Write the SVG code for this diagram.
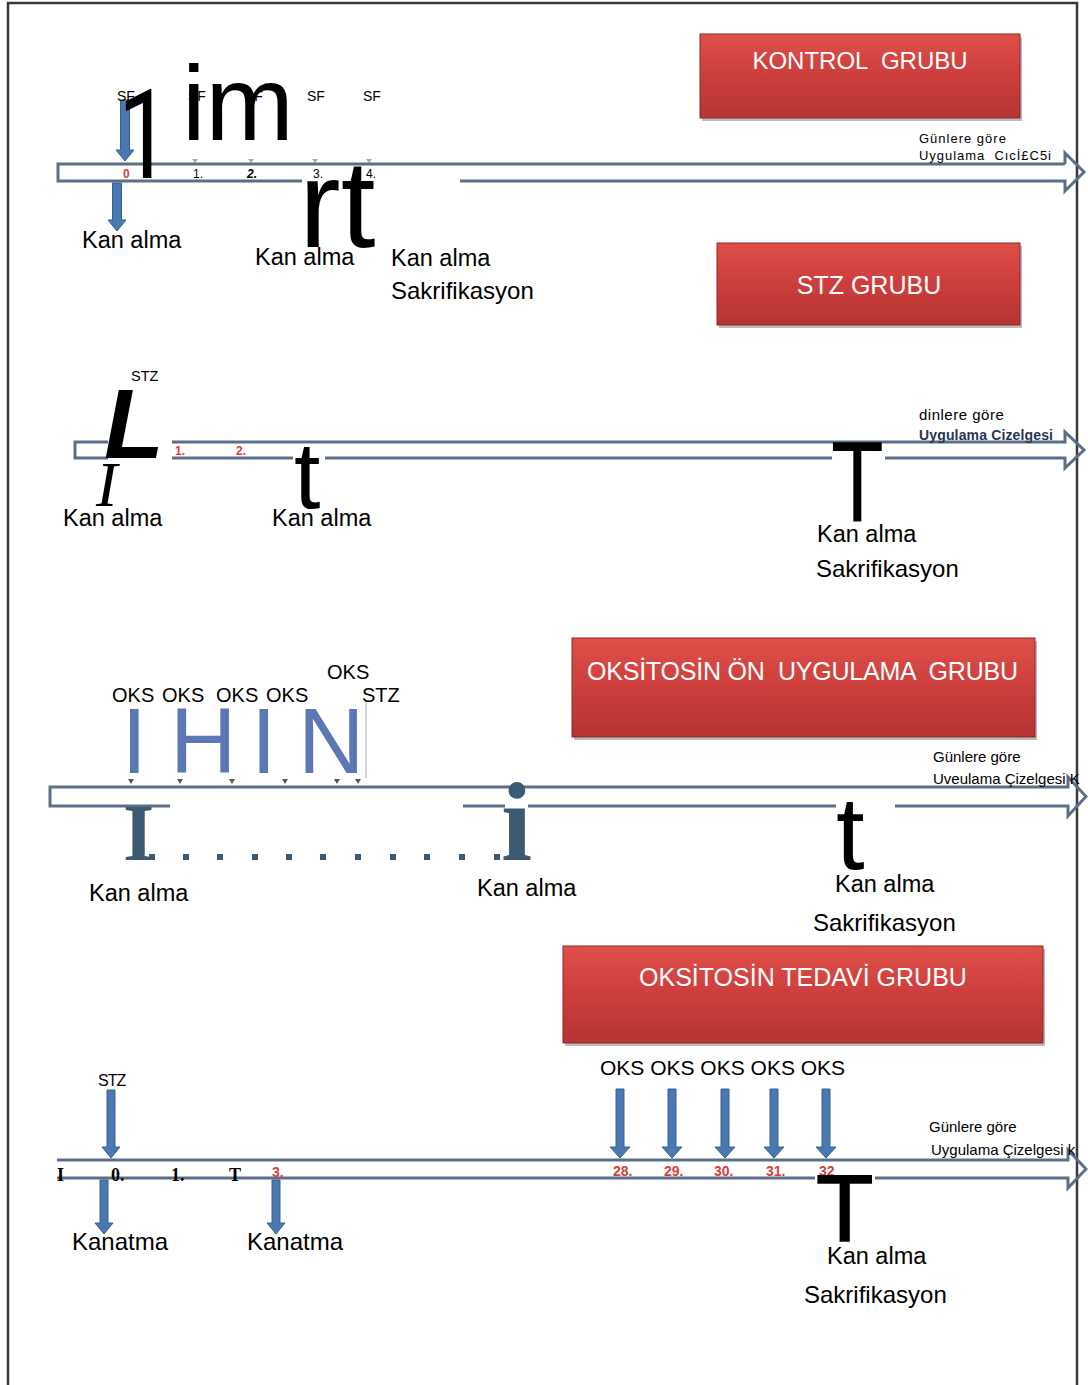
<svg xmlns="http://www.w3.org/2000/svg" width="1088" height="1385" viewBox="0 0 1088 1385">
<defs>
<linearGradient id="rg" x1="0" y1="0" x2="0" y2="1">
<stop offset="0" stop-color="#e0504a"/>
<stop offset="0.5" stop-color="#cc3e3c"/>
<stop offset="1" stop-color="#b53434"/>
</linearGradient>
<style>
.bar{fill:none;stroke:#5d6f88;stroke-width:3}
.ar{fill:#4a78b3;stroke:#38608f;stroke-width:1}
.box{fill:url(#rg);stroke:#8e2626;stroke-width:1}
.shd{fill:#6b6b6b;opacity:.45}
.bt{font-family:'Liberation Sans',Arial,sans-serif;font-size:25px;fill:#fff}
.t{font-family:'Liberation Sans',Arial,sans-serif;fill:#000}
.ka{font-size:23.5px}
.sk{font-size:24px}
.sm{font-size:14px}
.big{font-family:'Liberation Sans',Arial,sans-serif;fill:#000}
.red{font-family:'Liberation Sans',Arial,sans-serif;font-weight:bold;fill:#d8403a}
.blu{font-family:'Liberation Sans',Arial,sans-serif;font-size:92px;fill:#5b77b5}
.sl{fill:#3d5a73}
.ser{font-family:'Liberation Serif','Times New Roman',serif;font-weight:bold}
.tri{fill:#555}
</style>
</defs>
<rect x="0" y="0" width="1088" height="1385" fill="#fff"/>
<path d="M8,1385 V3 H1077 V1385" fill="none" stroke="#3a3a3a" stroke-width="2.5"/>

<g id="kontrol-grubu">
<rect class="shd" x="702" y="37" width="320" height="84"/>
<rect class="box" x="700" y="34" width="320" height="84"/>
<text class="bt" x="860" y="69" text-anchor="middle" xml:space="preserve" style="font-size:24px">KONTROL  GRUBU</text>
</g>
<g id="stz-grubu">
<rect class="shd" x="719" y="246" width="303" height="82"/>
<rect class="box" x="717" y="243" width="303" height="82"/>
<text class="bt" x="869" y="294" text-anchor="middle">STZ GRUBU</text>
</g>
<g id="oksitosin-on-grubu">
<rect class="shd" x="574" y="641" width="463" height="99"/>
<rect class="box" x="572" y="638" width="463" height="99"/>
<text class="bt" x="587" y="680" textLength="431" xml:space="preserve">OKSİTOSİN ÖN  UYGULAMA  GRUBU</text>
</g>
<g id="oksitosin-tedavi-grubu">
<rect class="shd" x="565" y="949" width="480" height="97"/>
<rect class="box" x="563" y="946" width="480" height="97"/>
<text class="bt" x="803" y="986" text-anchor="middle">OKSİTOSİN TEDAVİ GRUBU</text>
</g>

<g id="connectors">
<path class="bar" d="M1065,164 H58 V181 H302"/>
<path class="bar" d="M460,181 H1065 V191 L1084,172 L1065,153 V164"/>
<path class="bar" d="M108,442 H75 V458 H108 M172,458 H293 M325,458 H832"/>
<path class="bar" d="M885,458 H1065 V468 L1084,450 L1065,432 V442 H172"/>
<path class="bar" d="M170,806 H50 V787 H1068 V777 L1086,796.5 L1068,816 V806 H895 M836,806 H528 M505,806 H463"/>
<path class="bar" d="M57,1160 H1068 V1150 L1086,1169 L1068,1188 V1178 H875 M815,1178 H57"/>
<path class="ar" d="M120.5,100 H129.5 V150 H134 L125,161 L116,150 H120.5 Z"/>
<path class="ar" d="M112.5,183 H121.5 V220 H126 L117,231 L108,220 H112.5 Z"/>
<path class="ar" d="M107,1090 H115 V1147 H120 L111,1158 L102,1147 H107 Z"/>
<path class="ar" d="M100,1180 H108 V1223 H113 L104,1234 L95,1223 H100 Z"/>
<path class="ar" d="M272,1180 H280 V1223 H285 L276,1234 L267,1223 H272 Z"/>
<path class="ar" d="M616,1089 H624 V1147 H630 L620,1158 L610,1147 H616 Z"/>
<path class="ar" d="M668,1089 H676 V1147 H682 L672,1158 L662,1147 H668 Z"/>
<path class="ar" d="M721,1089 H729 V1147 H735 L725,1158 L715,1147 H721 Z"/>
<path class="ar" d="M770,1089 H778 V1147 H784 L774,1158 L764,1147 H770 Z"/>
<path class="ar" d="M822,1089 H830 V1147 H836 L826,1158 L816,1147 H822 Z"/>
<path class="tri" d="M192,159 h6 l-3,4 z M248,159 h6 l-3,4 z M312,159 h6 l-3,4 z M366,159 h6 l-3,4 z" opacity="0.5"/>
<path class="tri" d="M128,779 h6 l-3,5 z M177,779 h6 l-3,5 z M229,779 h6 l-3,5 z M282,779 h6 l-3,5 z M334,779 h6 l-3,5 z M355,779 h6 l-3,5 z"/>
<line x1="366" y1="700" x2="366" y2="778" stroke="#aaa" stroke-width="1"/>
</g>

<g id="timeline-kontrol">
<text class="t sm" x="117" y="101">SF</text>
<text class="t sm" x="188" y="101">SF</text>
<text class="t sm" x="245" y="101">SF</text>
<text class="t sm" x="307" y="101">SF</text>
<text class="t sm" x="363" y="101">SF</text>
<text class="red" x="123" y="178" font-size="12">0</text>
<text class="t" x="193" y="178" font-size="12">1.</text>
<text class="t" x="247" y="178" font-size="12" font-weight="bold" font-style="italic">2.</text>
<text class="t" x="313" y="178" font-size="12">3.</text>
<text class="t" x="366" y="178" font-size="12">4.</text>
<text class="t" x="919" y="143" font-size="13" letter-spacing="1">Günlere göre</text>
<text class="t" x="919" y="160" font-size="13" textLength="132" xml:space="preserve">Uygulama  Cıcİ£C5i</text>
<text class="t ka" x="82" y="248">Kan alma</text>
<text class="t ka" x="255" y="265">Kan alma</text>
<text class="t ka" x="391" y="266">Kan alma</text>
<text class="t sk" x="391" y="299">Sakrifikasyon</text>
<text font-family="Roboto,'Liberation Sans',sans-serif" fill="#000" font-size="125" transform="translate(118,178) scale(0.75,1)">1</text>
<text class="big" x="182" y="140" font-size="106">im</text>
<text class="big" x="299" y="247" font-size="125">rt</text>
</g>

<g id="timeline-stz">
<text class="t" x="131" y="381" font-size="14.5">STZ</text>
<text class="red" x="175" y="455" font-size="12">1.</text>
<text class="red" x="236" y="455" font-size="12">2.</text>
<text class="t" x="919" y="420" font-size="15" letter-spacing="0.5">dinlere göre</text>
<text class="t" x="919" y="440" font-size="14" font-weight="bold" style="fill:#2a3550" textLength="134">Uygulama Cizelgesi</text>
<text class="t ka" x="63" y="526">Kan alma</text>
<text class="t ka" x="272" y="526">Kan alma</text>
<text class="t ka" x="817" y="542">Kan alma</text>
<text class="t sk" x="816" y="577">Sakrifikasyon</text>
<text class="big" x="104" y="458" font-size="98" font-weight="bold" font-style="italic">L</text>
<text x="96" y="506" font-size="64" font-style="italic" font-family="'Liberation Serif','Times New Roman',serif">I</text>
<text class="big" x="294" y="508" font-size="95">t</text>
<text class="big" font-size="115" transform="translate(831,522) scale(0.75,1)">T</text>
</g>

<g id="timeline-oksitosin-on">
<text class="t" x="112" y="702" font-size="20">OKS</text>
<text class="t" x="162" y="702" font-size="20">OKS</text>
<text class="t" x="216" y="702" font-size="20">OKS</text>
<text class="t" x="266" y="702" font-size="20">OKS</text>
<text class="t" x="327" y="679" font-size="20">OKS</text>
<text class="t" x="362" y="702" font-size="20">STZ</text>
<text class="blu" x="121.5" y="773">I</text>
<text class="blu" x="170" y="773">H</text>
<text class="blu" x="251" y="773">I</text>
<text class="blu" x="298" y="773">N</text>
<text class="t" x="933" y="762" font-size="15">Günlere göre</text>
<text class="t" x="933" y="784" font-size="15">Uveulama Çizelgesi K</text>
<text class="ser sl" x="123" y="860" font-size="80">I</text>
<g class="sl">
<rect x="149" y="854" width="6" height="6"/><rect x="183" y="854" width="6" height="6"/><rect x="217" y="854" width="6" height="6"/><rect x="252" y="854" width="6" height="6"/><rect x="286" y="854" width="6" height="6"/><rect x="320" y="854" width="6" height="6"/><rect x="355" y="854" width="6" height="6"/><rect x="390" y="854" width="6" height="6"/><rect x="424" y="854" width="6" height="6"/><rect x="459" y="854" width="6" height="6"/><rect x="494" y="854" width="6" height="6"/>
</g>
<text class="ser sl" x="501" y="860" font-size="112">i</text>
<text class="t ka" x="89" y="901">Kan alma</text>
<text class="t ka" x="477" y="896">Kan alma</text>
<text class="t ka" x="835" y="892">Kan alma</text>
<text class="t sk" x="813" y="931">Sakrifikasyon</text>
<text class="big" x="836" y="869" font-size="103">t</text>
</g>

<g id="timeline-oksitosin-tedavi">
<text class="t" x="98" y="1086" font-size="16" letter-spacing="-1">STZ</text>
<text class="t" x="600" y="1075" font-size="21">OKS OKS OKS OKS OKS</text>
<text class="ser" x="57" y="1181" font-size="18">I</text>
<text class="ser" x="111" y="1181" font-size="18">0.</text>
<text class="ser" x="171" y="1181" font-size="18">1.</text>
<text class="ser" x="229" y="1181" font-size="18">T</text>
<text class="red" x="272" y="1177" font-size="14">3.</text>
<text class="red" x="613" y="1176" font-size="14">28.</text>
<text class="red" x="664" y="1176" font-size="14">29.</text>
<text class="red" x="714" y="1176" font-size="14">30.</text>
<text class="red" x="766" y="1176" font-size="14">31.</text>
<text class="red" x="819" y="1176" font-size="14">32</text>
<text class="t" x="929" y="1132" font-size="15">Günlere göre</text>
<text class="t" x="931" y="1155" font-size="15">Uygulama Çizelgesi k</text>
<text class="t sk" x="72" y="1250">Kanatma</text>
<text class="t sk" x="247" y="1250">Kanatma</text>
<text class="t ka" x="827" y="1264">Kan alma</text>
<text class="t sk" x="804" y="1303">Sakrifikasyon</text>
<text class="big" x="816" y="1241" font-size="94" stroke="#000" stroke-width="1.5">T</text>
</g>
</svg>
